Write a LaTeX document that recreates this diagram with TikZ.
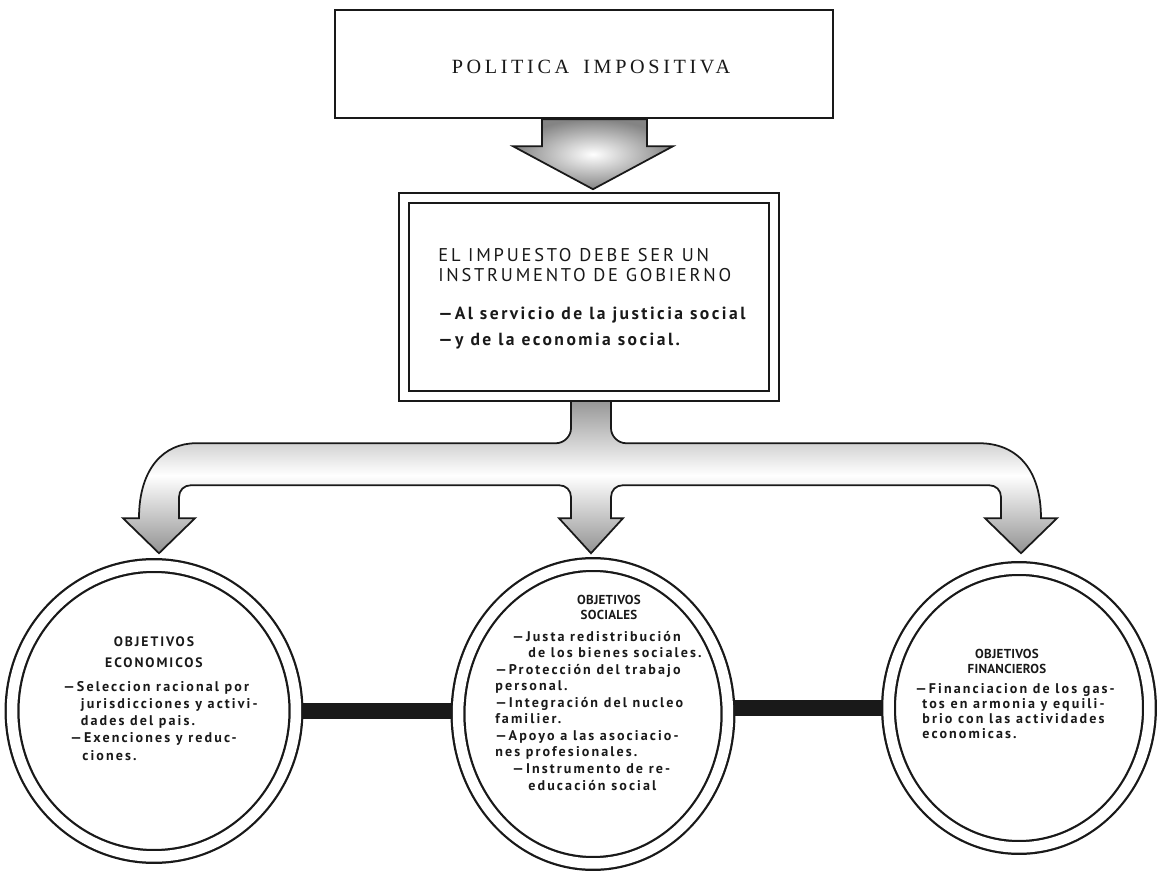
\documentclass[tikz,border=0pt]{standalone}
\usepackage{fontspec}
\setmainfont{PT Sans}
\newfontfamily\titlefont{Liberation Serif}[LetterSpace=18]
\newfontfamily\headfont{PT Sans}[LetterSpace=15]
\newfontfamily\leadfont{PT Sans}[LetterSpace=14]
\newfontfamily\ringfont{PT Sans}[LetterSpace=2]
\newfontfamily\wideringfont{PT Sans}[LetterSpace=14]
\newfontfamily\bodyfont{PT Sans}[LetterSpace=15]
\usetikzlibrary{positioning,calc,shapes.geometric,backgrounds}
\definecolor{Ink}{RGB}{25,25,25}
\definecolor{TubeGray}{RGB}{110,110,110}
\tikzset{
  titlebox/.style={draw=Ink,line width=.05cm,fill=white,minimum width=9.96cm,minimum height=2.16cm,inner sep=0pt},
  govbox/.style={draw=Ink,line width=.05cm,double,double distance=.15cm,fill=white,minimum width=7.4cm,minimum height=3.96cm,inner sep=0pt},
  ring/.style={ellipse,draw=Ink,line width=.045cm,double,double distance=.21cm,inner sep=0pt},
  link/.style={draw=Ink,line width=.32cm},
  tube/.style={draw=Ink,line width=1pt,top color=TubeGray!75,bottom color=TubeGray!75,middle color=white},
  drop/.style={draw=Ink,line width=1pt,inner color=white,outer color=TubeGray!85},
  bigtitle/.style={font=\titlefont\fontsize{11.5}{13}\selectfont,text=Ink,inner sep=0pt},
  heading/.style={font=\headfont\fontsize{10.5}{11.4}\selectfont,align=left,text=Ink,inner sep=0pt},
  lead/.style={font=\leadfont\bfseries\fontsize{10}{14.8}\selectfont,align=left,text=Ink,inner sep=0pt},
  ringhead/.style={font=\ringfont\bfseries\fontsize{7.4}{#1}\selectfont,align=center,text=Ink,inner sep=0pt},
  ringhead/.default=9.7,
  wideringhead/.style={ringhead,font=\wideringfont\bfseries\fontsize{7.8}{11.4}\selectfont},
  ringtext/.style={font=\bodyfont\bfseries\fontsize{8}{#1}\selectfont,align=left,text=Ink,inner sep=0pt},
  ringtext/.default=9.7
}

\begin{document}
\begin{tikzpicture}[x=.02cm,y=-.02cm]
  \useasboundingbox (0,0) rectangle (1157,871);
  \node[titlebox] (title) at (584,64) {};
  \node[bigtitle,anchor=base] (titletext) at (591,74) {POLITICA\hspace{8pt}IMPOSITIVA};
  \node[govbox] (gov) at (589,297) {};
  \node[heading,anchor=base west] (govhead) at (438,282) {EL IMPUESTO DEBE SER UN\\INSTRUMENTO DE GOBIERNO};
  \node[lead,anchor=base west] (govlead) at (438,346) {—Al servicio de la justicia social\\—y de la economia social.};
  \node[ring,minimum width=5.68cm,minimum height=5.82cm] (eco) at (154,711) {};
  \node[ring,minimum width=5.40cm,minimum height=5.98cm] (soc) at (593,714) {};
  \node[ring,minimum width=5.22cm,minimum height=5.58cm] (fin) at (1019,708) {};
  \node[wideringhead,anchor=base] (ecohead) at (154,667) {OBJETIVOS\\ECONOMICOS};
  \node[ringtext,anchor=base west] (ecotext) at (63,760) {—Seleccion racional por\\
    \hspace*{10pt}jurisdicciones y activi-\\
    \hspace*{10pt}dades del pais.\\
    \hspace*{4pt}—Exenciones y reduc-\\
    \hspace*{10.8pt}ciones.};
  \node[ringhead=8.8,anchor=base] (sochead) at (609,620) {OBJETIVOS\\SOCIALES};
  \node[ringtext=9.4,anchor=base west] (soctext) at (495,790) {\hspace*{9.7pt}—Justa redistribución\\
    \hspace*{18.8pt}de los bienes sociales.\\
    —Protección del trabajo\\
    personal.\\
    —Integración del nucleo\\
    familier.\\
    —Apoyo a las asociacio-\\
    nes profesionales.\\
    \hspace*{9.7pt}—Instrumento de re-\\
    \hspace*{18.8pt}educación social};
  \node[ringhead=8.5,anchor=base] (finhead) at (1007,673) {OBJETIVOS\\FINANCIEROS};
  \node[ringtext=8.4,anchor=base west] (fintext) at (915,738) {—Financiacion de los gas-\\
    \hspace*{4pt}tos en armonia y equili-\\
    \hspace*{4pt}brio con las actividades\\
    \hspace*{4pt}economicas.};
  \begin{scope}[on background layer]
    \draw[link] (eco.east) -- (soc.west |- eco.east);
    \draw[link] (soc.east |- fin.west) -- (fin.west);
  \end{scope}
  \begin{scope}[on background layer,shift={(title.south)}]
    \draw[drop] (-42,0) -- (-42,27) -- (-71,27) -- (9,70) -- (89,27) -- (63,27) -- (63,0) -- cycle;
  \end{scope}
  \begin{scope}[on background layer,shift={(gov.south)}]
    \draw[tube] (-18,0) -- (-18,31) .. controls (-18,39) and (-25,46) .. (-33,46)
      -- (-393,46) .. controls (-425,46) and (-450,71) .. (-450,121)
      -- (-466,121) -- (-430,156) -- (-394,121) -- (-410,121) -- (-410,100)
      .. controls (-410,93) and (-405,88) .. (-398,88)
      -- (-30,88) .. controls (-23,88) and (-18,93) .. (-18,100)
      -- (-18,121) -- (-30,121) -- (2,156) -- (34,121) -- (22,121) -- (22,100)
      .. controls (22,93) and (27,88) .. (34,88)
      -- (400,88) .. controls (407,88) and (412,93) .. (412,100)
      -- (412,121) -- (396,121) -- (432,156) -- (468,121) -- (452,121)
      .. controls (452,71) and (427,46) .. (390,46)
      -- (37,46) .. controls (29,46) and (22,39) .. (22,31) -- (22,0) -- cycle;
  \end{scope}
\end{tikzpicture}
\end{document}
